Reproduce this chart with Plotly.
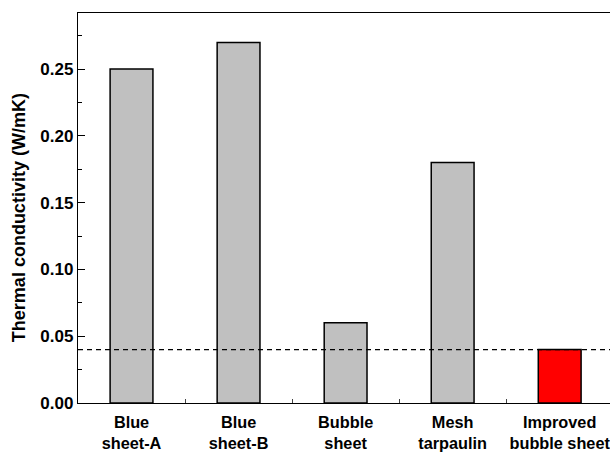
import plotly.graph_objects as go

categories = ["Blue<br>sheet-A", "Blue<br>sheet-B", "Bubble<br>sheet", "Mesh<br>tarpaulin", "Improved<br>bubble sheet"]
conductivity = [0.25, 0.27, 0.06, 0.18, 0.04]
bar_colors = ["#c0c0c0", "#c0c0c0", "#c0c0c0", "#c0c0c0", "#ff0000"]
threshold = 0.04
y_ticks = [0.00, 0.05, 0.10, 0.15, 0.20, 0.25]
y_title = "Thermal conductivity (W/mK)"

FONT = "Arial, Liberation Sans, sans-serif"

fig = go.Figure()
fig.add_trace(go.Bar(
    x=categories, y=conductivity, width=0.4,
    marker=dict(color=bar_colors, line=dict(color="black", width=1.5)),
    showlegend=False,
))

fig.add_shape(type="line", xref="paper", x0=0, x1=1, yref="y", y0=threshold, y1=threshold,
              line=dict(color="black", width=1.3, dash="5px,4px"), layer="above")

fig.add_annotation(text=y_title, textangle=-90, xref="paper", yref="paper",
                   x=0, xshift=-59, y=0.474, xanchor="center", yanchor="middle",
                   showarrow=False,
                   font=dict(family=FONT, size=18, color="black", weight="bold"))

fig.update_layout(
    width=610, height=455,
    margin=dict(l=78, r=0, t=13, b=52),
    plot_bgcolor="white", paper_bgcolor="white",
    font=dict(family=FONT, size=16, color="black"),
    xaxis=dict(
        range=[-0.5, 4.47], showline=True, linecolor="black", linewidth=1.3,
        mirror=True, ticks="inside", ticklen=4, tickwidth=1, tickcolor="#444",
        tickson="boundaries", showgrid=False, automargin=False,
        ticklabelstandoff=4, tickangle=0,
        tickfont=dict(family=FONT, size=16.3, color="black", weight="bold"),
    ),
    yaxis=dict(
        range=[0, 0.292], showline=True, linecolor="black", linewidth=1.3,
        ticks="inside", ticklen=7, tickwidth=1.2, tickcolor="black",
        tickvals=y_ticks, tickformat=".2f", showgrid=False, zeroline=False,
        automargin=False,
        minor=dict(dtick=0.025, ticks="inside", ticklen=4, tickcolor="black", tickwidth=1),
        tickfont=dict(family=FONT, size=17, color="black", weight="bold"),
    ),
)

fig.write_html("out.html", config={"displayModeBar": False},
               post_script="document.body.style.margin='0';")
